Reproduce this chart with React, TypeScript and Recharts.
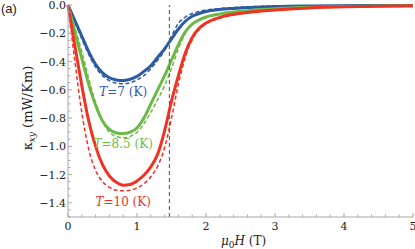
import {
  LineChart,
  Line,
  XAxis,
  YAxis,
  ReferenceLine,
  ReferenceDot,
} from "recharts";

// field values (T)
const fields = [
  0, 0.1, 0.2, 0.3, 0.4, 0.5, 0.6, 0.7, 0.8, 0.9, 1.0, 1.1, 1.2, 1.3, 1.4, 1.5,
  1.6, 1.7, 1.8, 1.9, 2.0, 2.2, 2.4, 2.6, 2.8, 3.0, 3.5, 4.0, 4.5, 5.0,
];

// kappa_xy (mW/Km), solid = model, dashed = second model
const blueSolid = [
  0, -0.11, -0.22, -0.33, -0.42, -0.48, -0.515, -0.53, -0.535, -0.525, -0.505,
  -0.47, -0.43, -0.37, -0.31, -0.24, -0.17, -0.115, -0.08, -0.06, -0.046,
  -0.032, -0.024, -0.018, -0.014, -0.011, -0.007, -0.005, -0.004, -0.003,
];
const blueDashed = [
  0, -0.12, -0.24, -0.35, -0.44, -0.5, -0.535, -0.553, -0.557, -0.55, -0.53,
  -0.5, -0.45, -0.39, -0.32, -0.22, -0.13, -0.085, -0.06, -0.045, -0.036,
  -0.025, -0.018, -0.013, -0.01, -0.008, -0.005, -0.003, -0.002, -0.001,
];
const greenSolid = [
  0, -0.19, -0.38, -0.56, -0.71, -0.82, -0.88, -0.905, -0.91, -0.9, -0.87,
  -0.8, -0.7, -0.6, -0.5, -0.39, -0.28, -0.19, -0.135, -0.105, -0.085, -0.063,
  -0.05, -0.04, -0.032, -0.026, -0.016, -0.01, -0.007, -0.005,
];
const greenDashed = [
  0, -0.16, -0.33, -0.52, -0.69, -0.82, -0.9, -0.93, -0.94, -0.93, -0.9,
  -0.84, -0.76, -0.67, -0.57, -0.45, -0.31, -0.2, -0.14, -0.108, -0.088,
  -0.066, -0.052, -0.042, -0.034, -0.028, -0.017, -0.011, -0.008, -0.006,
];
const redSolid = [
  0, -0.29, -0.57, -0.82, -1.0, -1.13, -1.21, -1.255, -1.275, -1.27, -1.245,
  -1.205, -1.145, -1.055, -0.89, -0.68, -0.5, -0.34, -0.23, -0.165, -0.128,
  -0.088, -0.066, -0.053, -0.043, -0.035, -0.021, -0.013, -0.008, -0.005,
];
const redDashed = [
  0, -0.4, -0.76, -1.02, -1.17, -1.25, -1.29, -1.31, -1.315, -1.31, -1.295,
  -1.265, -1.215, -1.14, -1.01, -0.8, -0.56, -0.37, -0.245, -0.175, -0.135,
  -0.093, -0.07, -0.056, -0.046, -0.037, -0.022, -0.014, -0.009, -0.006,
];

const xTicks = Array.from({ length: 26 }, (_, i) => i / 5);
const yTicks = Array.from({ length: 31 }, (_, i) => -i / 20);
const criticalField = 1.47;

const BLUE = "#2c5aa3";
const GREEN = "#6cb944";
const RED = "#ee3325";
const FRAME = "#a8a8a8";
const SERIF = "'DejaVu Serif', serif";

const data = fields.map((h, i) => ({
  h,
  b: blueSolid[i],
  bd: blueDashed[i],
  g: greenSolid[i],
  gd: greenDashed[i],
  r: redSolid[i],
  rd: redDashed[i],
}));

const isMajorX = (v: number) => Math.abs(v - Math.round(v)) < 1e-6;
const isMajorY = (v: number) => Math.abs(v * 5 - Math.round(v * 5)) < 1e-6;

const BottomTick = ({ x, y, payload }: any) => {
  const major = isMajorX(payload.value);
  return (
    <g>
      <line x1={x} x2={x} y1={y} y2={y - (major ? 4 : 2.5)} stroke={FRAME} />
      {major && (
        <text x={x} y={y + 13} textAnchor="middle" fontFamily={SERIF} fontSize={11} fill="#222">
          {Math.round(payload.value)}
        </text>
      )}
    </g>
  );
};

const TopTick = ({ x, y, payload }: any) => {
  const major = isMajorX(payload.value);
  return <line x1={x} x2={x} y1={y} y2={y + (major ? 4 : 2.5)} stroke={FRAME} />;
};

const LeftTick = ({ x, y, payload }: any) => {
  const major = isMajorY(payload.value);
  const v = payload.value;
  const label = v === 0 ? "0.0" : "\u2212" + Math.abs(v).toFixed(1);
  return (
    <g>
      <line x1={x} x2={x + (major ? 4 : 2.5)} y1={y} y2={y} stroke={FRAME} />
      {major && (
        <text x={x - 2} y={y + 4} textAnchor="end" fontFamily={SERIF} fontSize={11} fill="#222">
          {label}
        </text>
      )}
    </g>
  );
};

const RightTick = ({ x, y, payload }: any) => {
  const major = isMajorY(payload.value);
  return <line x1={x} x2={x - (major ? 4 : 2.5)} y1={y} y2={y} stroke={FRAME} />;
};

const CurveLabel = ({ viewBox, temp, color }: any) => {
  const cx = viewBox.x + (viewBox.width || 0) / 2;
  const cy = viewBox.y + (viewBox.height || 0) / 2;
  return (
    <text x={cx} y={cy + 5} textAnchor="middle" fill={color} fontFamily={SERIF} fontSize={12}>
      <tspan fontStyle="italic">T</tspan>={temp} (K)
    </text>
  );
};

const YTitle = ({ viewBox }: any) => {
  const cy = viewBox.y + viewBox.height / 2 - 3;
  return (
    <text
      x={32}
      y={cy}
      transform={`rotate(-90 32 ${cy})`}
      textAnchor="middle"
      fontFamily={SERIF}
      fontSize={13}
      fill="#222"
    >
      κ<tspan fontStyle="italic" fontSize={9} dy={3}>xy</tspan>
      <tspan dy={-3}> (mW/Km)</tspan>
    </text>
  );
};

const XTitle = ({ viewBox }: any) => {
  const cx = viewBox.x + viewBox.width / 2 + 3;
  return (
    <text x={cx} y={245} textAnchor="middle" fontFamily={SERIF} fontSize={12} fill="#222">
      <tspan fontStyle="italic">μ</tspan>
      <tspan fontSize={9} dy={3}>0</tspan>
      <tspan fontStyle="italic" dy={-3}>H</tspan> (T)
    </text>
  );
};

export default function App() {
  return (
    <div style={{ position: "absolute", left: 0, top: 0, width: 415, height: 249 }}>
      <div
        style={{
          position: "absolute",
          left: 1,
          top: 1,
          fontFamily: "'Liberation Sans', sans-serif",
          fontSize: 13,
          color: "#222",
        }}
      >
        (a)
      </div>
      <LineChart
        width={415}
        height={249}
        data={data}
        margin={{ top: 5, right: 2, bottom: 0, left: 0 }}
      >
        <XAxis
          dataKey="h"
          type="number"
          domain={[0, 5]}
          ticks={xTicks}
          interval={0}
          height={32}
          tickSize={0}
          tickMargin={0}
          tickLine={false}
          axisLine={{ stroke: FRAME }}
          tick={<BottomTick />}
          label={<XTitle />}
        />
        <XAxis
          xAxisId="top"
          orientation="top"
          dataKey="h"
          type="number"
          domain={[0, 5]}
          ticks={xTicks}
          interval={0}
          height={0}
          tickSize={0}
          tickMargin={0}
          tickLine={false}
          axisLine={{ stroke: FRAME }}
          tick={<TopTick />}
        />
        <YAxis
          type="number"
          domain={[-1.5, 0]}
          ticks={yTicks}
          interval={0}
          width={68}
          tickSize={0}
          tickMargin={0}
          tickLine={false}
          axisLine={{ stroke: FRAME }}
          tick={<LeftTick />}
          label={<YTitle />}
        />
        <YAxis
          yAxisId="right"
          orientation="right"
          type="number"
          domain={[-1.5, 0]}
          ticks={yTicks}
          interval={0}
          width={0}
          tickSize={0}
          tickMargin={0}
          tickLine={false}
          axisLine={{ stroke: FRAME }}
          tick={<RightTick />}
        />
        <Line type="monotone" dataKey="bd" stroke={BLUE} strokeWidth={1.5} strokeDasharray="4 2.5" dot={false} isAnimationActive={false} />
        <Line type="monotone" dataKey="b" stroke={BLUE} strokeWidth={3} dot={false} isAnimationActive={false} />
        <Line type="monotone" dataKey="gd" stroke={GREEN} strokeWidth={1.5} strokeDasharray="4 2.5" dot={false} isAnimationActive={false} />
        <Line type="monotone" dataKey="g" stroke={GREEN} strokeWidth={3} dot={false} isAnimationActive={false} />
        <Line type="monotone" dataKey="rd" stroke={RED} strokeWidth={1.5} strokeDasharray="4 2.5" dot={false} isAnimationActive={false} />
        <Line type="monotone" dataKey="r" stroke={RED} strokeWidth={3} dot={false} isAnimationActive={false} />
        <ReferenceLine x={criticalField} stroke="#666" strokeWidth={1.2} strokeDasharray="4 3" />
        <ReferenceDot x={0.8} y={-0.608} r={0} fill="none" stroke="none" label={<CurveLabel temp="7" color={BLUE} />} />
        <ReferenceDot x={0.8} y={-0.976} r={0} fill="none" stroke="none" label={<CurveLabel temp="8.5" color={GREEN} />} />
        <ReferenceDot x={0.8} y={-1.386} r={0} fill="none" stroke="none" label={<CurveLabel temp="10" color={RED} />} />
      </LineChart>
    </div>
  );
}
